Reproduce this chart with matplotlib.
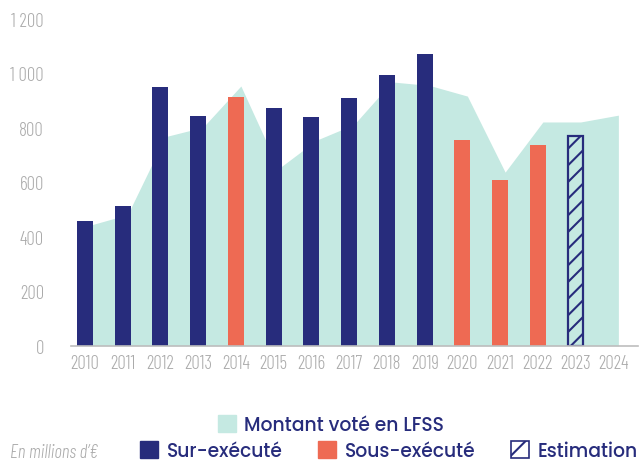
import matplotlib
matplotlib.use("Agg")
import matplotlib.pyplot as plt
from matplotlib.patches import Patch
from matplotlib.ticker import FuncFormatter

# data (millions d'euros)
years = list(range(2010, 2025))
lfss = [442, 481, 767, 802, 953, 650, 754, 812, 968, 955, 916, 637, 821, 821, 846]

bar_years = list(range(2010, 2024))
executed = [458, 513, 949, 843, 913, 872, 839, 909, 993, 1070, 755, 608, 736, 770]
status = ['sur', 'sur', 'sur', 'sur', 'sous', 'sur', 'sur', 'sur', 'sur', 'sur',
          'sous', 'sous', 'sous', 'estim']

navy = '#272c7c'
orange = '#ee6a53'
mint = '#c5e9e2'
grey = '#ababab'

plt.rcParams['hatch.linewidth'] = 1.5
narrow = ['Barlow Condensed', 'Asap Condensed', 'Liberation Sans Narrow', 'DejaVu Sans']
geo = ['Poppins', 'Inter', 'DejaVu Sans']

fig = plt.figure(figsize=(6.4, 4.64), dpi=100)
ax = fig.add_axes([71 / 640, (464 - 346.7) / 464, 567 / 640, 327 / 464])

# area for the voted amount, sits slightly right of the bars
ax.fill_between([y + 0.13 for y in years], lfss, color=mint, lw=0, zorder=1)

for y, v, s in zip(bar_years, executed, status):
    if s == 'estim':
        ax.bar(y, v, width=0.4, facecolor='none', edgecolor=navy, hatch='//',
               lw=1.6, zorder=3)
    else:
        ax.bar(y, v, width=0.424, color=navy if s == 'sur' else orange,
               lw=0, zorder=3)

ax.set_xlim(2009.63, 2024.65)
ax.set_ylim(0, 1200)
ax.set_xticks(years)
ax.set_yticks(range(0, 1201, 200))
ax.yaxis.set_major_formatter(FuncFormatter(lambda v, p: f"{int(v):,}".replace(",", " ")))

for sp in ['top', 'right', 'left']:
    ax.spines[sp].set_visible(False)
ax.spines['bottom'].set_color('#bdbdbd')
ax.spines['bottom'].set_linewidth(1.2)
ax.spines['bottom'].set_zorder(4)
ax.tick_params(length=0, labelcolor=grey, labelsize=13.5)
ax.tick_params(axis='x', pad=6)
ax.tick_params(axis='y', pad=19.5)
for lab in ax.get_xticklabels() + ax.get_yticklabels():
    lab.set_family(narrow)
    lab.set_weight(300)

prop = {'size': 13.5, 'family': geo, 'weight': 500}

leg1 = fig.legend(handles=[Patch(color=mint)], labels=['Montant voté en LFSS'],
                  loc='center', bbox_to_anchor=(331 / 640, 1 - 426 / 464),
                  frameon=False, handlelength=0.96, handleheight=0.96,
                  handletextpad=0.45, prop=prop, labelcolor=navy)
handles = [Patch(color=navy), Patch(color=orange),
           Patch(facecolor='white', edgecolor=navy, hatch='/', lw=1.2)]
leg2 = fig.legend(handles=handles, labels=['Sur-exécuté', 'Sous-exécuté', 'Estimation'],
                  ncol=3, loc='center', bbox_to_anchor=(389 / 640, 1 - 452 / 464),
                  frameon=False, handlelength=0.96, handleheight=0.96,
                  handletextpad=0.45, columnspacing=1.9,
                  prop=prop, labelcolor=navy)

fig.text(10 / 640, 1 - 453 / 464, "En millions d’€", ha='left', va='center',
         fontsize=13.5, color=grey, style='italic', weight=300, family=narrow)

fig.savefig("out.png", dpi=100)
